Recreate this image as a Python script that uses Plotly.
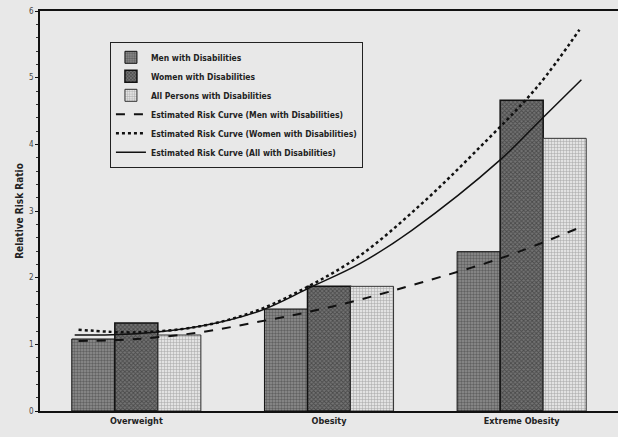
import plotly.graph_objects as go

categories = ["Overweight", "Obesity", "Extreme Obesity"]
men_bars = [1.08, 1.53, 2.39]
women_bars = [1.32, 1.87, 4.66]
all_bars = [1.14, 1.87, 4.09]

men_curve_x = [-0.30, 0.00, 0.33, 0.62, 0.90, 1.16, 1.47, 1.90, 2.30]
men_curve_y = [1.05, 1.08, 1.18, 1.33, 1.49, 1.67, 1.92, 2.30, 2.75]
women_curve_x = [-0.30, 0.00, 0.33, 0.62, 0.90, 1.16, 1.47, 1.76, 2.08, 2.30]
women_curve_y = [1.22, 1.18, 1.27, 1.50, 1.88, 2.33, 3.08, 3.89, 4.86, 5.72]
all_curve_x = [-0.32, 0.00, 0.33, 0.64, 0.90, 1.16, 1.43, 1.89, 2.11, 2.31]
all_curve_y = [1.14, 1.16, 1.27, 1.50, 1.85, 2.21, 2.71, 3.77, 4.40, 4.97]

y_ticks = [0, 1, 2, 3, 4, 5, 6]

FONT = "DejaVu Sans Condensed, Liberation Sans Narrow, Arial, sans-serif"
xpos = list(range(len(categories)))

fig = go.Figure()
fig.add_trace(go.Bar(
    x=xpos, y=men_bars, name="<b>Men with Disabilities</b>",
    marker=dict(color="#808080", line=dict(color="#111111", width=1),
                pattern=dict(shape=".", fgcolor="#333333", bgcolor="#8f8f8f", size=3, solidity=0.5)),
))
fig.add_trace(go.Bar(
    x=xpos, y=women_bars, name="<b>Women with Disabilities</b>",
    marker=dict(color="#555555", line=dict(color="#111111", width=1.5),
                pattern=dict(shape="x", fgcolor="#222222", bgcolor="#737373", size=3, solidity=0.5)),
))
fig.add_trace(go.Bar(
    x=xpos, y=all_bars, name="<b>All Persons with Disabilities</b>",
    marker=dict(color="#d0d0d0", line=dict(color="#333333", width=1),
                pattern=dict(shape="+", fgcolor="#666666", bgcolor="#e2e2e2", size=3, solidity=0.3)),
))
fig.add_trace(go.Scatter(
    x=men_curve_x, y=men_curve_y, mode="lines", line_shape="spline",
    name="<b>Estimated Risk Curve (Men with Disabilities)</b>",
    line=dict(color="#111111", width=2, dash="dash"),
))
fig.add_trace(go.Scatter(
    x=women_curve_x, y=women_curve_y, mode="lines", line_shape="spline",
    name="<b>Estimated Risk Curve (Women with Disabilities)</b>",
    line=dict(color="#111111", width=2.5, dash="dot"),
))
fig.add_trace(go.Scatter(
    x=all_curve_x, y=all_curve_y, mode="lines", line_shape="spline",
    name="<b>Estimated Risk Curve (All with Disabilities)</b>",
    line=dict(color="#111111", width=1.5),
))

fig.update_layout(
    width=618, height=437,
    margin=dict(l=40, r=0, t=11, b=26),
    paper_bgcolor="#e8e8e8", plot_bgcolor="#e8e8e8",
    barmode="group", bargap=0.33, bargroupgap=0,
    font=dict(family=FONT, color="#222222", size=9),
    showlegend=True,
    legend=dict(
        x=0.121, y=0.923, xanchor="left", yanchor="top",
        bgcolor="rgba(0,0,0,0)", bordercolor="#222222", borderwidth=1,
        font=dict(family=FONT, size=8.5, color="#222222"),
        traceorder="normal", itemwidth=30,
    ),
    xaxis=dict(
        range=[-0.5, 2.5], tickvals=xpos, ticktext=[f"<b>{c}</b>" for c in categories],
        showline=True, linecolor="#111111", linewidth=1.5, mirror=True,
        showgrid=False, zeroline=False, ticks="",
        tickfont=dict(family=FONT, size=9, color="#222222"),
    ),
    yaxis=dict(
        range=[0, 6], tickvals=y_ticks, ticktext=[str(t) for t in y_ticks],
        showline=True, linecolor="#111111", linewidth=1.5,
        showgrid=False, zeroline=False, ticks="outside", ticklen=3, tickcolor="#111111",
        minor=dict(ticks="outside", ticklen=2, dtick=0.2, tickcolor="#333333"),
        tickfont=dict(family=FONT, size=8, color="#444444"),
        title=dict(text="<b>Relative Risk Ratio</b>", font=dict(family=FONT, size=10, color="#222222"), standoff=4),
    ),
)

fig.write_html(
    "out.html",
    config={"displayModeBar": False},
    post_script="document.body.style.margin='0';document.body.style.overflow='hidden';",
)
